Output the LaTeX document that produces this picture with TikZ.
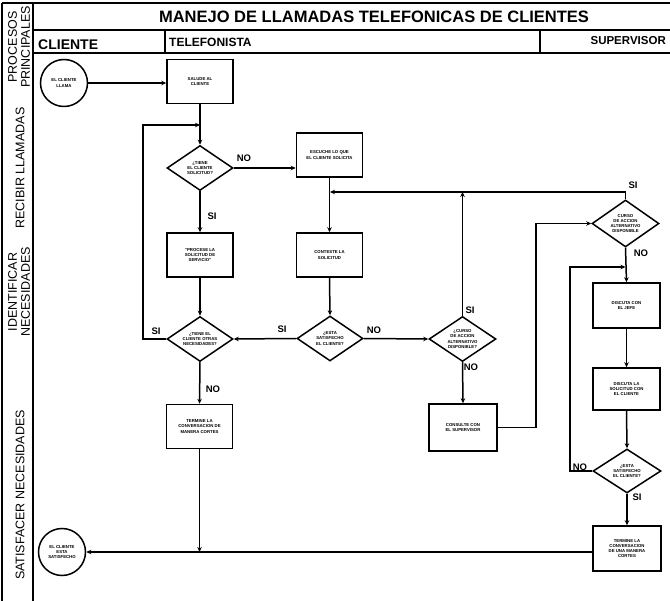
\documentclass[tikz,border=0pt]{standalone}
\usepackage{fontspec}
\setmainfont{Liberation Sans}
\usepackage{graphicx}
\usetikzlibrary{shapes.geometric,arrows.meta}
\newcommand\bxfont{\fontsize{4.3}{5.3}\selectfont\bfseries}
\newcommand\lanefont{\fontsize{12.5}{13}\selectfont}
\begin{document}
\begin{tikzpicture}[x=1pt,y=-1pt,
  frameline/.style={line width=1.1pt},
  proc/.style={draw, line width=1.5pt, rectangle, minimum width=66pt, minimum height=44pt,
    inner sep=1pt, align=center, font=\bxfont},
  dec/.style={draw, line width=1.5pt, diamond, minimum width=66pt, minimum height=45pt, inner sep=0pt},
  dectext/.style={align=center, font=\bxfont, inner sep=0pt},
  term/.style={draw, line width=1.5pt, circle, minimum size=47pt, inner sep=0pt, align=center, font=\bxfont},
  flow/.style={line width=1.5pt, -{Stealth[length=5pt,width=4.5pt]}},
  link/.style={line width=1.5pt},
  ans/.style={font=\fontsize{9.5}{10}\selectfont\bfseries, inner sep=0pt},
  lane/.style={rotate=90, align=center, font=\lanefont, inner sep=0pt},
  head/.style={font=\bfseries, inner sep=0pt}]
\useasboundingbox (0,0) rectangle (670,601);

% frame and headers
\draw[frameline] (2,3) -- (670,3);
\draw[frameline] (2,3) -- (2,601);
\draw[frameline] (33,3) -- (33,601);
\draw[frameline] (33,30) -- (670,30);
\draw[frameline] (33,53) -- (670,53);
\draw[frameline] (165,30) -- (165,53);
\draw[frameline] (540,30) -- (540,53);

\node[head, font=\fontsize{16.5}{18}\selectfont\bfseries] (title) at (374,17) {MANEJO DE LLAMADAS TELEFONICAS DE CLIENTES};
\node[head, anchor=west, font=\fontsize{14}{15}\selectfont\bfseries] (hcli) at (38,45) {CLIENTE};
\node[head, anchor=west, font=\fontsize{12}{13}\selectfont\bfseries] (htel) at (169,42) {TELEFONISTA};
\node[head, anchor=east, font=\fontsize{11.5}{12}\selectfont\bfseries] (hsup) at (666,41) {SUPERVISOR};

% process lanes
\node[lane] (lp) at (19,47) {PROCESOS\\PRINCIPALES};
\node[lane] (lr) at (20,168) {RECIBIR LLAMADAS};
\node[lane] (li) at (19,292) {IDENTIFICAR\\NECESIDADES};
\node[lane] (ls) at (20,495) {SATISFACER NECESIDADES};

% client
\node[term] (c1) at (64,83) {EL CLIENTE\\LLAMA};
\node[term] (c2) at (62,552) {EL CLIENTE\\ESTA\\SATISFECHO};

% operator
\node[proc] (b1) at (200,81.5) {SALUDE AL\\CLIENTE};
\node[dec] (d1) at (200,168) {};
\node[dectext] (d1t) at (d1) {¿TIENE\\EL CLIENTE\\SOLICITUD?};
\node[proc] (b2) at (329.5,155) {ESCUCHE LO QUE\\EL CLIENTE SOLICITA};
\node[proc] (b3) at (200,255) {"PROCESE LA\\SOLICITUD DE\\SERVICIO"};
\node[proc] (b4) at (329.5,255) {CONTESTE LA\\SOLICITUD};
\node[dec] (d2) at (200,339) {};
\node[dectext] (d2t) at (d2) {¿TIENE EL\\CLIENTE OTRAS\\NECESIDADES?};
\node[dec] (d3) at (330,338.5) {};
\node[dectext] (d3t) at (d3) {¿ESTA\\SATISFECHO\\EL CLIENTE?};
\node[dec, minimum width=67pt] (d4) at (462.5,339) {};
\node[dectext] (d4t) at (d4) {¿CURSO\\DE ACCION\\ALTERNATIVO\\DISPONIBLE?};
\node[proc] (b5) at (199.5,426.5) {TERMINE LA\\CONVERSACION DE\\MANERA CORTES};
\node[proc, minimum width=68pt, minimum height=47pt] (b6) at (463,427.5) {CONSULTE CON\\EL SUPERVISOR};

% supervisor
\node[dec, minimum width=67pt, minimum height=47pt] (d5) at (625.5,223.5) {};
\node[dectext] (d5t) at (d5) {CURSO\\DE ACCION\\ALTERNATIVO\\DISPONIBLE};
\node[proc, minimum width=67pt, minimum height=45pt] (b7) at (626.5,305.5) {DISCUTA CON\\EL JEFE};
\node[proc, minimum width=67pt, minimum height=42pt] (b8) at (626.5,389) {DISCUTA LA\\SOLICITUD CON\\EL CLIENTE};
\node[dec, minimum width=68pt, minimum height=44pt] (d6) at (627,471) {};
\node[dectext] (d6t) at (d6) {¿ESTA\\SATISFECHO\\EL CLIENTE?};
\node[proc, minimum width=68pt, minimum height=45pt] (b9) at (627,548.5) {TERMINE LA\\CONVERSACION\\DE UNA MANERA\\CORTES};

% helper points for the loops
\coordinate (loopa) at (143,125);
\coordinate (join) at (330,192);
\coordinate (risea) at (536,300);
\coordinate (riseb) at (570,267);

% connectors
\draw[flow] (c1.east) -- (c1.east -| b1.west);
\draw[flow] (b1.south) -- (d1.north);
\draw[flow] (d1.east) -- (d1.east -| b2.west);
\draw[flow] (d1.south) -- (b3.north);
\draw[flow] (b3.south) -- (d2.north);
\draw[flow] (d2.west) -| (loopa) -- (b1.south |- loopa);
\draw[flow] (d2.south) -- (b5.north);
\draw[flow] (b5.south) -- (b5.south |- c2.east);
\draw[flow] (b9.west |- c2.east) -- (c2.east);
\draw[link] (b9.west) -- (b9.west |- c2.east);
\draw[flow] (b2.south) -- (b4.north);
\draw[flow] (b4.south) -- (d3.north);
\draw[flow] (d3.west) -- (d2.east);
\draw[flow] (d3.east) -- (d4.west);
\draw[flow] (d4.north) -- (d4.north |- join);
\draw[flow] (d5.north) |- (join);
\draw[flow] (d4.south) -- (b6.north);
\draw[flow] (b6.east) -| (risea) |- (d5.west);
\draw[flow] (d5.south) -- (b7.north);
\draw[flow] (b7.south) -- (b8.north);
\draw[flow] (b8.south) -- (d6.north);
\draw[flow] (d6.west) -| (riseb) -- (d5.south |- riseb);
\draw[flow] (d6.south) -- (b9.north);

% answers
\node[ans] (a1) at (244,158) {NO};
\node[ans] (a2) at (212,216) {SI};
\node[ans] (a3) at (156,331) {SI};
\node[ans] (a4) at (213,389) {NO};
\node[ans] (a5) at (282,329) {SI};
\node[ans] (a6) at (374,330) {NO};
\node[ans] (a7) at (470,310) {SI};
\node[ans] (a8) at (471,367) {NO};
\node[ans] (a9) at (633,185) {SI};
\node[ans] (a10) at (641,253) {NO};
\node[ans] (a11) at (580,467) {NO};
\node[ans] (a12) at (637,497) {SI};
\end{tikzpicture}
\end{document}
